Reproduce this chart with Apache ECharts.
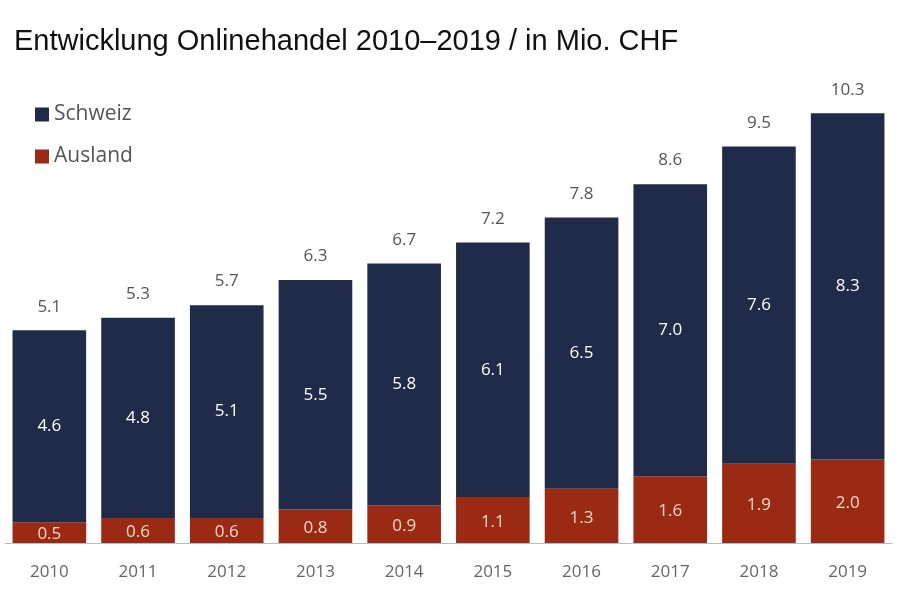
<!DOCTYPE html>
<html><head><meta charset="utf-8">
<script src="https://cdn.jsdelivr.net/npm/echarts@6/dist/echarts.min.js"></script>
<style>html,body{margin:0;padding:0;background:#fff}#c{width:900px;height:600px}</style>
</head><body><div id="c"></div>
<script>
const years = ['2010','2011','2012','2013','2014','2015','2016','2017','2018','2019'];
const ausland = [0.5,0.6,0.6,0.8,0.9,1.1,1.3,1.6,1.9,2.0];
const schweiz = [4.6,4.8,5.1,5.5,5.8,6.1,6.5,7.0,7.6,8.3];
const totals = [5.1,5.3,5.7,6.3,6.7,7.2,7.8,8.6,9.5,10.3];

const font = '"Open Sans", "Noto Sans", sans-serif';
const chart = echarts.init(document.getElementById('c'));
chart.setOption({
  animation:false,
  title:{text:'Entwicklung Onlinehandel 2010\u20132019 / in Mio. CHF', left:9, top:22,
    textStyle:{fontFamily:'"Liberation Sans", Arial, sans-serif', fontSize:29, fontWeight:'normal', color:'#111'}},
  legend:{orient:'vertical', left:30, top:99, itemWidth:14, itemHeight:14, itemGap:21, icon:'rect',
    data:['Schweiz','Ausland'],
    textStyle:{fontFamily:font, fontSize:21, color:'#555'}},
  grid:{left:5, right:8, top:84, bottom:57},
  xAxis:{type:'category', data:years,
    axisLine:{lineStyle:{color:'#bbb'}}, axisTick:{show:false},
    axisLabel:{fontFamily:font, fontSize:17, color:'#666', margin:21}},
  yAxis:{type:'value', min:0, max:11, show:false, splitLine:{show:false}},
  series:[
    {name:'Ausland', type:'bar', stack:'t', data:ausland, barCategoryGap:'17%',
      itemStyle:{color:'#9b2a14'},
      label:{show:true, position:'inside', offset:[0,2], fontFamily:font, fontSize:17, color:'#f6d9c4', formatter:p=>p.value.toFixed(1)}},
    {name:'Schweiz', type:'bar', stack:'t', data:schweiz,
      itemStyle:{color:'#1f2b48'},
      label:{show:true, position:'inside', fontFamily:font, fontSize:17, color:'#fff', formatter:p=>p.value.toFixed(1)}},
    {name:'Total', type:'bar', stack:'t', data:years.map(()=>0),
      itemStyle:{color:'transparent'},
      label:{show:true, position:'top', distance:15, fontFamily:font, fontSize:17, color:'#555', formatter:p=>totals[p.dataIndex].toFixed(1)}}
  ]
});
</script></body></html>
